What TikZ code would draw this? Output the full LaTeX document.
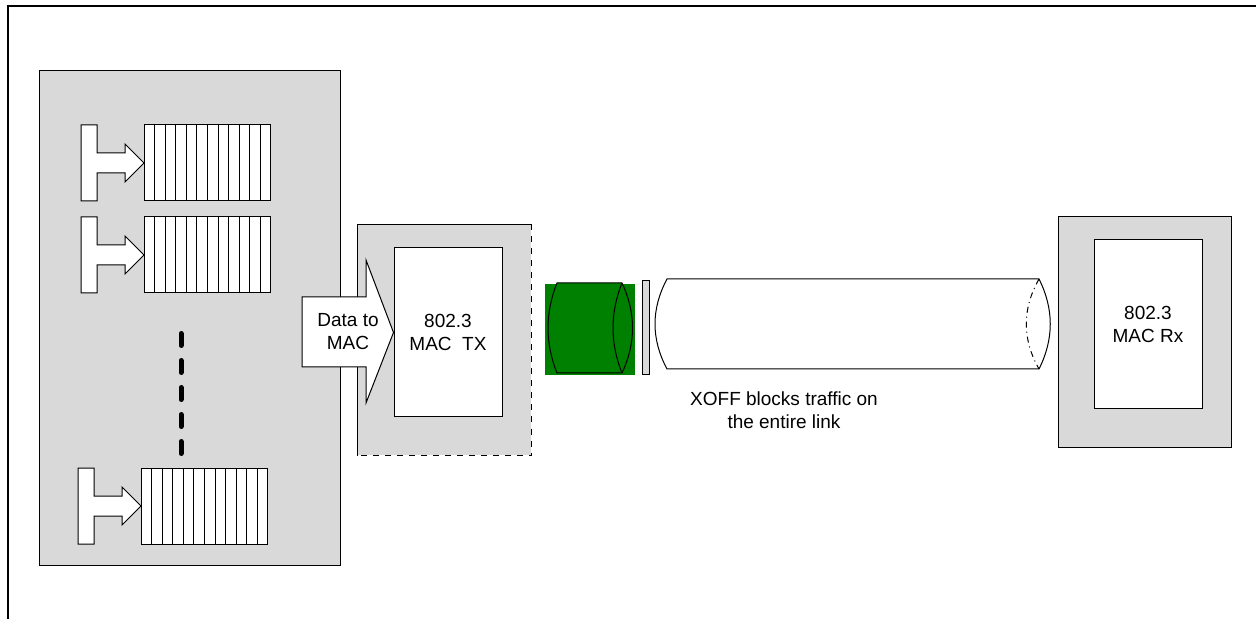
\documentclass[tikz,border=0pt]{standalone}
\usepackage{fontspec}
\setmainfont{Liberation Sans}
\usetikzlibrary{positioning}
\definecolor{panelgray}{RGB}{217,217,217}
\definecolor{linkgreen}{RGB}{0,128,0}

\begin{document}
\begin{tikzpicture}[
  x=0.5pt, y=-0.5pt,
  font=\fontsize{9.5}{11.5}\selectfont,
  panel/.style={fill=panelgray, draw, line width=0.5pt, inner sep=0pt},
  mac/.style={draw, fill=white, line width=0.5pt, align=center, minimum width=54pt, minimum height=84.5pt, inner sep=0pt},
  cell/.style={draw, fill=white, line width=0.5pt},
  feed/.style={draw, fill=white, line width=0.5pt},
  cyl/.style={draw, line width=0.5pt},
]
\useasboundingbox (0,0) rectangle (1256,619);
\draw[line width=1pt] (8,619) -- (8,6) -- (1256,6);

% host with per-class queues
\node[panel, minimum width=150.5pt, minimum height=247pt] (host) at (189.5,318) {};
\foreach \x/\t in {81/125, 81/217, 78/468} {
  \draw[feed] (\x,\t) -- ++(16,0) -- ++(0,28) -- ++(28,0) -- ++(0,-9) -- ++(19,19) -- ++(-19,19) -- ++(0,-9) -- ++(-28,0) -- ++(0,28) -- ++(-16,0) -- cycle;
  \foreach \i in {0,...,11}
    \draw[cell] ({\x+63+\i*10.58},\t) rectangle ++(10.58,76);
}
\draw[line width=2.5pt, line cap=round, dash pattern=on 6pt off 7.5pt] (181,333.5) -- (181,454);

% transmit side
\node[panel, draw=none, minimum width=86.5pt, minimum height=115pt] (txbox) at (444.5,340) {};
\draw[line width=0.5pt] (txbox.south west) -- (txbox.north west) -- (txbox.north east);
\draw[line width=0.5pt, dashed] (txbox.north east) -- (txbox.south east) -- (txbox.south west);
\node[mac] (txmac) at (448,332.5) {802.3\\MAC\ \ TX};
\draw[feed] (302,297) -- (366,297) -- (366,260) -- (txmac.west) -- (366,403) -- (366,367) -- (302,367) -- cycle;
\node[align=center] (datatx) at (348,332) {Data to\\MAC};

% paused frame, pause bar and link
\fill[linkgreen] (545,284) rectangle (635,375);
\draw[cyl, fill=linkgreen] (557,283) .. controls (545,313) and (545,343) .. (557,373) -- (622,373) .. controls (636,343) and (636,313) .. (622,283) -- cycle;
\draw[cyl] (622,283) .. controls (610,313) and (610,343) .. (622,373);
\draw[cyl, fill=panelgray] (642,281) rectangle (649,375);
\draw[cyl, fill=white] (667,279) .. controls (651,309) and (651,339) .. (667,369) -- (1039,369) .. controls (1054,339) and (1054,309) .. (1039,279) -- cycle;
\draw[cyl, dash dot] (1039,279) .. controls (1022,309) and (1022,339) .. (1039,369);
\node[align=center] (xoff) at (784,410) {XOFF blocks traffic on\\the entire link};

% receive side
\node[panel, minimum width=86.5pt, minimum height=115pt] (rxbox) at (1144.5,332) {};
\node[mac] (rxmac) at (1148,324.5) {802.3\\MAC Rx};
\end{tikzpicture}
\end{document}
